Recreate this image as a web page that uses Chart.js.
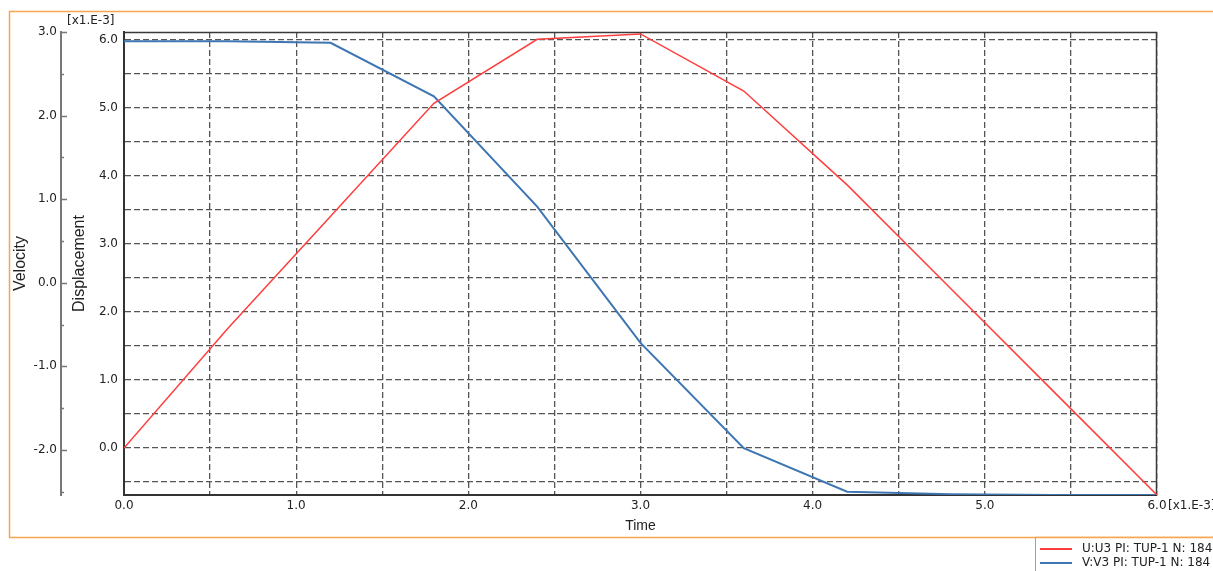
<!DOCTYPE html>
<html>
<head>
<meta charset="utf-8">
<script src="https://cdn.jsdelivr.net/npm/chart.js@4/dist/chart.umd.min.js"></script>
<style>
  html, body { margin: 0; padding: 0; background: #fff; overflow: hidden; }
  #wrap { width: 1213px; height: 571px; position: relative; }
</style>
</head>
<body>
<div id="wrap"><canvas id="c" width="1213" height="571"></canvas></div>
<script>
// Time samples [x1.E-3]
const time = [0.0, 0.6, 1.2, 1.8, 2.4, 3.0, 3.6, 4.2, 4.8, 5.4, 6.0];
// U3 displacement [x1.E-3]
const displacement = [0.0, 1.75, 3.41, 5.07, 6.01, 6.09, 5.25, 3.87, 2.35, 0.83, -0.69];
// V3 velocity
const velocity = [2.89, 2.89, 2.87, 2.23, 0.91, -0.72, -1.98, -2.50, -2.53, -2.54, -2.54];

// Grid positions and tick labels
const timeGrid = [0.0, 0.5, 1.0, 1.5, 2.0, 2.5, 3.0, 3.5, 4.0, 4.5, 5.0, 5.5, 6.0];
const timeLabels = ['0.0', '1.0', '2.0', '3.0', '4.0', '5.0', '6.0'];
const dispGrid = [-0.5, 0.0, 0.5, 1.0, 1.5, 2.0, 2.5, 3.0, 3.5, 4.0, 4.5, 5.0, 5.5, 6.0];
const dispLabels = ['0.0', '1.0', '2.0', '3.0', '4.0', '5.0', '6.0'];
const velGrid = [-2.5, -2.0, -1.5, -1.0, -0.5, 0.0, 0.5, 1.0, 1.5, 2.0, 2.5, 3.0];
const velLabels = ['-2.0', '-1.0', '0.0', '1.0', '2.0', '3.0'];

const seriesNames = ['U:U3 PI: TUP-1 N: 184', 'V:V3 PI: TUP-1 N: 184'];
const seriesColors = ['#ff3d3d', '#3d76b2'];

function labelFor(labels, v) {
  const hit = labels.find(l => Math.abs(parseFloat(l) - v) < 1e-9);
  return hit === undefined ? '' : hit;
}
const setTicks = grid => scale => { scale.ticks = grid.map(v => ({ value: v })); };

const tickFont = { family: 'DejaVu Sans', size: 12 };
const titleFont = { family: 'Liberation Sans', size: 16 };
const textColor = '#222';

// Page frame, plot frame, inward velocity ticks, unit tags and legend
const decorations = {
  id: 'decorations',
  beforeDraw(chart) {
    const ctx = chart.ctx;
    ctx.save();
    ctx.fillStyle = '#fff';
    ctx.fillRect(0, 0, chart.width, chart.height);
    ctx.strokeStyle = '#f7a650';
    ctx.lineWidth = 1.5;
    ctx.strokeRect(9.5, 11.5, chart.width + 10, 526);
    ctx.restore();
  },
  beforeDatasetsDraw(chart) {
    const { ctx, chartArea: a } = chart;
    ctx.save();
    // top and right edges of the plot frame
    ctx.strokeStyle = '#3a3a3a';
    ctx.lineWidth = 1.5;
    ctx.beginPath();
    ctx.moveTo(a.left, a.top + 0.5);
    ctx.lineTo(a.right - 0.5, a.top + 0.5);
    ctx.lineTo(a.right - 0.5, a.bottom);
    ctx.stroke();
    // velocity axis tick marks pointing inward
    const vs = chart.scales.yVel;
    ctx.strokeStyle = '#777';
    ctx.lineWidth = 1.5;
    ctx.beginPath();
    velGrid.forEach(v => {
      const y = Math.round(vs.getPixelForValue(v)) + 0.5;
      const len = labelFor(velLabels, v) ? 6 : 3;
      ctx.moveTo(vs.right, y);
      ctx.lineTo(vs.right + len, y);
    });
    ctx.stroke();
    ctx.restore();
  },
  afterDraw(chart) {
    const { ctx, chartArea: a } = chart;
    const ds = chart.scales.yDisp;
    ctx.save();
    ctx.fillStyle = textColor;
    ctx.font = '12px "DejaVu Sans"';
    ctx.textBaseline = 'middle';
    ctx.textAlign = 'left';
    ctx.fillText('[x1.E-3]', ds.left + 6, 21);
    ctx.fillText('[x1.E-3]', a.right + 11, 506);

    // legend box
    const lx = 1035.5, ly = 537;
    ctx.fillStyle = '#fff';
    ctx.fillRect(lx, ly + 1, chart.width - lx, chart.height - ly);
    ctx.strokeStyle = '#a0a0a0';
    ctx.lineWidth = 1;
    ctx.beginPath();
    ctx.moveTo(lx, ly);
    ctx.lineTo(lx, chart.height);
    ctx.stroke();
    ctx.strokeStyle = '#f7a650';
    ctx.lineWidth = 1.5;
    ctx.beginPath();
    ctx.moveTo(lx, ly + 0.5);
    ctx.lineTo(chart.width, ly + 0.5);
    ctx.stroke();

    ctx.font = '12px "DejaVu Sans"';
    chart.data.datasets.forEach((d, i) => {
      const y = 549 + i * 14;
      ctx.strokeStyle = d.borderColor;
      ctx.lineWidth = 2;
      ctx.beginPath();
      ctx.moveTo(1040, y);
      ctx.lineTo(1072, y);
      ctx.stroke();
      ctx.fillStyle = textColor;
      ctx.fillText(d.label, 1082, y);
    });
    ctx.restore();
  }
};

new Chart(document.getElementById('c'), {
  type: 'line',
  data: {
    datasets: [
      {
        label: seriesNames[0],
        data: time.map((t, i) => ({ x: t, y: displacement[i] })),
        yAxisID: 'yDisp',
        borderColor: seriesColors[0],
        borderWidth: 1.5,
        pointRadius: 0,
        tension: 0,
        fill: false
      },
      {
        label: seriesNames[1],
        data: time.map((t, i) => ({ x: t, y: velocity[i] })),
        yAxisID: 'yVel',
        borderColor: seriesColors[1],
        borderWidth: 2,
        pointRadius: 0,
        tension: 0,
        fill: false
      }
    ]
  },
  options: {
    responsive: false,
    animation: false,
    layout: { padding: { left: 10, top: 32, right: 56, bottom: 31 } },
    plugins: { legend: { display: false }, tooltip: { enabled: false } },
    scales: {
      x: {
        type: 'linear',
        position: 'bottom',
        min: 0,
        max: 6,
        afterBuildTicks: setTicks(timeGrid),
        afterFit: s => { s.height = 45; },
        ticks: {
          autoSkip: false, maxRotation: 0, padding: 4, color: textColor, font: tickFont,
          callback: v => labelFor(timeLabels, v)
        },
        grid: { color: '#555', lineWidth: 1.3, drawTicks: false },
        border: { display: true, color: '#333', width: 2, dash: [6, 3] },
        title: {
          display: true, text: 'Time', color: textColor,
          font: { family: 'Liberation Sans', size: 14 }, padding: { top: 0, bottom: 5 }
        }
      },
      yDisp: {
        type: 'linear',
        position: 'left',
        weight: 0,
        min: -0.69,
        max: 6.118,
        afterBuildTicks: setTicks(dispGrid),
        afterFit: s => { s.width = 63; },
        ticks: {
          autoSkip: false, padding: 6, color: textColor, font: tickFont,
          callback: v => labelFor(dispLabels, v)
        },
        grid: { color: '#555', lineWidth: 1.3, drawTicks: false },
        border: { display: true, color: '#333', width: 2, dash: [6, 3] },
        title: { display: true, text: 'Displacement', color: textColor, font: titleFont, padding: { top: 9, bottom: 0 } }
      },
      yVel: {
        type: 'linear',
        position: 'left',
        weight: 1,
        min: -2.54,
        max: 3.0,
        afterBuildTicks: setTicks(velGrid),
        afterFit: s => { s.width = 51; },
        ticks: {
          autoSkip: false, padding: 4, color: textColor, font: tickFont,
          callback: v => labelFor(velLabels, v)
        },
        grid: { drawOnChartArea: false, drawTicks: false },
        border: { display: true, color: '#777', width: 2 },
        title: { display: true, text: 'Velocity', color: textColor, font: titleFont, padding: { top: 1, bottom: 0 } }
      }
    }
  },
  plugins: [decorations]
});
</script>
</body>
</html>
